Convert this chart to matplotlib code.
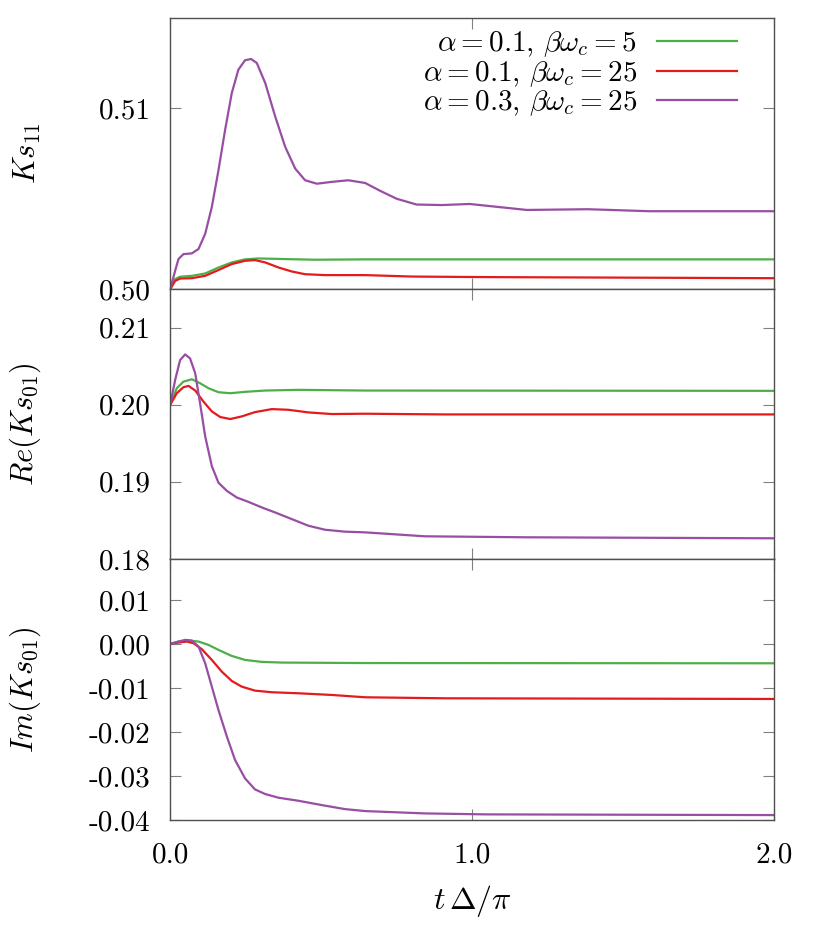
import matplotlib
matplotlib.use('Agg')
import matplotlib.pyplot as plt

# values
labels = [r'$\alpha = 0.1,\, \beta\omega_c = 5$',
          r'$\alpha = 0.1,\, \beta\omega_c = 25$',
          r'$\alpha = 0.3,\, \beta\omega_c = 25$']
colors = ['#4daf4a', '#e41a1c', '#984ea3']

# Ks_11
ks11_green_t = [0, 0.0166, 0.033, 0.072, 0.116, 0.160, 0.204, 0.248, 0.292, 0.370, 0.480, 0.646, 1.0, 2.0]
ks11_green = [0.5, 0.50056, 0.50069, 0.50074, 0.50087, 0.5012, 0.50148, 0.50165, 0.5017, 0.50167,
              0.50163, 0.50165, 0.50165, 0.50165]
ks11_red_t = [0, 0.0166, 0.033, 0.072, 0.116, 0.160, 0.204, 0.248, 0.281, 0.315, 0.359, 0.403, 0.447,
              0.513, 0.646, 0.802, 1.046, 2.0]
ks11_red = [0.5, 0.50046, 0.50059, 0.50061, 0.50074, 0.50106, 0.50139, 0.50157, 0.50161, 0.50148,
            0.5012, 0.50098, 0.50083, 0.50078, 0.50078, 0.5007, 0.50067, 0.50061]
ks11_purple_t = [0, 0.0166, 0.0276, 0.044, 0.0718, 0.0938, 0.116, 0.138, 0.160, 0.182, 0.204, 0.226,
                 0.248, 0.268, 0.287, 0.315, 0.348, 0.381, 0.414, 0.447, 0.486, 0.535, 0.590, 0.646,
                 0.694, 0.750, 0.816, 0.900, 0.992, 1.181, 1.384, 1.587, 2.0]
ks11_purple = [0.5, 0.50102, 0.50167, 0.50194, 0.50198, 0.50222, 0.50306, 0.50454, 0.50657, 0.5088,
               0.51083, 0.51213, 0.51265, 0.51272, 0.5125, 0.51139, 0.50954, 0.50787, 0.50667, 0.50602,
               0.50583, 0.50593, 0.50602, 0.50587, 0.50545, 0.50500, 0.50468, 0.50465, 0.50471,
               0.50438, 0.50442, 0.50431, 0.50431]

# Re(Ks_01)
re_green_t = [0, 0.022, 0.044, 0.072, 0.099, 0.127, 0.160, 0.199, 0.248, 0.315, 0.425, 0.646, 2.0]
re_green = [0.2, 0.20215, 0.20301, 0.20331, 0.2028, 0.20215, 0.20163, 0.2015, 0.20168, 0.20185,
            0.20194, 0.20185, 0.20181]
re_red_t = [0, 0.022, 0.044, 0.061, 0.083, 0.110, 0.138, 0.166, 0.199, 0.237, 0.281, 0.337, 0.392,
            0.458, 0.535, 0.646, 0.911, 2.0]
re_red = [0.2, 0.2015, 0.20228, 0.20245, 0.20185, 0.20043, 0.19914, 0.19841, 0.19815, 0.19849,
          0.19905, 0.19944, 0.19935, 0.19901, 0.1988, 0.19884, 0.19875, 0.19875]
re_purple_t = [0, 0.0166, 0.033, 0.0497, 0.066, 0.083, 0.099, 0.116, 0.138, 0.160, 0.188, 0.221,
               0.259, 0.304, 0.348, 0.403, 0.458, 0.513, 0.579, 0.646, 0.843, 1.181, 2.0]
re_purple = [0.2, 0.20323, 0.20581, 0.20654, 0.20602, 0.20409, 0.20022, 0.19591, 0.19204, 0.18989,
             0.18882, 0.18796, 0.1874, 0.18667, 0.18602, 0.18516, 0.1843, 0.18378, 0.18353, 0.18344,
             0.18293, 0.1828, 0.18267]

# Im(Ks_01)
im_green_t = [0, 0.0276, 0.061, 0.094, 0.127, 0.160, 0.204, 0.248, 0.304, 0.370, 0.646, 2.0]
im_green = [0, 0.00053, 0.00076, 0.00053, -0.00023, -0.00136, -0.00273, -0.00364, -0.00409,
            -0.00424, -0.00435, -0.0044]
im_red_t = [0, 0.0276, 0.055, 0.077, 0.105, 0.138, 0.171, 0.204, 0.237, 0.281, 0.337, 0.425, 0.535,
            0.646, 0.911, 2.0]
im_red = [0, 0.0003, 0.00053, 0.00015, -0.00121, -0.00364, -0.00629, -0.00841, -0.0097, -0.01061,
          -0.01098, -0.01121, -0.01159, -0.01212, -0.01235, -0.0125]
im_purple_t = [0, 0.0276, 0.0497, 0.072, 0.094, 0.116, 0.138, 0.160, 0.188, 0.215, 0.248, 0.281,
               0.315, 0.359, 0.425, 0.502, 0.579, 0.646, 0.843, 1.046, 2.0]
im_purple = [0, 0.00053, 0.00091, 0.00076, -0.00061, -0.00439, -0.0097, -0.015, -0.02106, -0.02636,
             -0.03053, -0.03303, -0.03409, -0.03492, -0.03561, -0.03659, -0.0375, -0.03795, -0.03848,
             -0.0387, -0.03886]

plt.rcParams['font.family'] = 'serif'
plt.rcParams['font.serif'] = ['cmr10', 'DejaVu Serif']
plt.rcParams['mathtext.fontset'] = 'cm'
plt.rcParams['axes.unicode_minus'] = False
plt.rcParams['axes.formatter.use_mathtext'] = True

fig = plt.figure(figsize=(8.3, 9.33), dpi=100)
left, right = 0.205, 0.9325
bottoms = [0.690, 0.401, 0.121]
tops = [0.981, 0.690, 0.401]
axes = [fig.add_axes([left, b, right - left, t - b]) for b, t in zip(bottoms, tops)]

panels = [
    ([ks11_green_t, ks11_red_t, ks11_purple_t], [ks11_green, ks11_red, ks11_purple],
     (0.50, 0.515), [0.50, 0.51], ['0.50', '0.51'], r'$Ks_{11}$'),
    ([re_green_t, re_red_t, re_purple_t], [re_green, re_red, re_purple],
     (0.18, 0.215), [0.18, 0.19, 0.20, 0.21], ['0.18', '0.19', '0.20', '0.21'], r'$Re(Ks_{01})$'),
    ([im_green_t, im_red_t, im_purple_t], [im_green, im_red, im_purple],
     (-0.04, 0.0193), [-0.04, -0.03, -0.02, -0.01, 0.0, 0.01],
     ['-0.04', '-0.03', '-0.02', '-0.01', '0.00', '0.01'], r'$Im(Ks_{01})$'),
]

for ax, (ts, ys, ylim, yt, ytl, ylab) in zip(axes, panels):
    for t, y, c, lab in zip(ts, ys, colors, labels):
        ax.plot(t, y, color=c, lw=1.6, label=lab)
    ax.set_xlim(0, 2)
    ax.set_ylim(*ylim)
    ax.set_yticks(yt)
    ax.set_yticklabels(ytl)
    ax.set_xticks([0, 1, 2])
    ax.tick_params(direction='in', which='both', top=True, right=True, length=8,
                   color='#808080', labelsize=21, pad=14)
    ax.set_ylabel(ylab, fontsize=22)
    ax.yaxis.set_label_coords(-0.21, 0.5)
    for s in ax.spines.values():
        s.set_color('#505050')
        s.set_linewidth(1.0)

axes[0].tick_params(labelbottom=False)
axes[1].tick_params(labelbottom=False)
axes[2].set_xticklabels(['0.0', '1.0', '2.0'])
axes[2].tick_params(axis='x', pad=16)
axes[2].set_xlabel(r'$t\,\Delta/\pi$', fontsize=23, labelpad=10)

axes[0].legend(loc='upper right', frameon=False, markerfirst=False, fontsize=21,
               handlelength=2.75, handletextpad=0.7, labelspacing=0.0, borderpad=0.2,
               borderaxespad=0.6, bbox_to_anchor=(0.978, 1.044))

fig.savefig('out.png', dpi=100)
